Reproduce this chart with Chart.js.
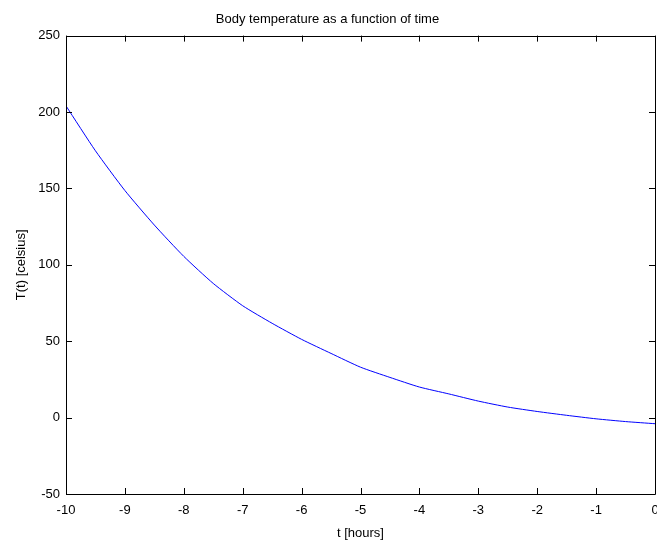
<!DOCTYPE html>
<html>
<head>
<meta charset="utf-8">
<script src="https://cdn.jsdelivr.net/npm/chart.js@4"></script>
<style>
  html, body { margin: 0; padding: 0; background: #fff; }
  #wrap { width: 657px; height: 544px; }
</style>
</head>
<body>
<div id="wrap"><canvas id="tempChart" width="657" height="544"></canvas></div>
<script type="text/javascript">
// time in hours, temperature in celsius
const hours = [-10, -9.5, -9, -8.5, -8, -7.5, -7, -6.5, -6, -5.5, -5,
               -4.5, -4, -3.5, -3, -2.5, -2, -1.5, -1, -0.5, 0];
const temps = [204, 174.6, 148.6, 126, 105.5, 87.8, 73.2, 61.7, 51.2, 42, 33,
               26.3, 20, 15.5, 10.8, 6.9, 4, 1.5, -0.8, -2.6, -4];
const chartTitle = "Body temperature as a function of time";
const xLabel = "t [hours]";
const yLabel = "T(t) [celsius]";

const FONT = "'Liberation Sans', Arial, sans-serif";

// octave style box: frame on all sides, tick marks pointing inward
const boxTicks = {
  id: "boxTicks",
  afterDraw(chart) {
    const ctx = chart.ctx;
    const a = chart.chartArea;
    const xs = chart.scales.x, ys = chart.scales.y;
    const len = 6;
    ctx.save();
    ctx.strokeStyle = "#000";
    ctx.lineWidth = 1;
    ctx.beginPath();
    ctx.rect(Math.round(a.left) + 0.5, Math.round(a.top) + 0.5,
             Math.round(a.right - a.left), Math.round(a.bottom - a.top));
    xs.ticks.forEach(t => {
      const px = Math.round(xs.getPixelForValue(t.value)) + 0.5;
      ctx.moveTo(px, a.bottom); ctx.lineTo(px, a.bottom - len);
      ctx.moveTo(px, a.top); ctx.lineTo(px, a.top + len);
    });
    ys.ticks.forEach(t => {
      const py = Math.round(ys.getPixelForValue(t.value)) + 0.5;
      ctx.moveTo(a.left, py); ctx.lineTo(a.left + len, py);
      ctx.moveTo(a.right, py); ctx.lineTo(a.right - len, py);
    });
    ctx.stroke();
    ctx.restore();
  }
};

new Chart("tempChart", {
  type: "line",
  data: {
    datasets: [{
      data: hours.map((h, i) => ({ x: h, y: temps[i] })),
      borderColor: "#0000ff",
      borderWidth: 1,
      pointRadius: 0,
      fill: false,
      tension: 0.2
    }]
  },
  options: {
    responsive: false,
    animation: false,
    layout: { padding: { left: 0, right: 2, top: 0, bottom: 0 } },
    plugins: {
      legend: { display: false },
      tooltip: { enabled: false },
      title: {
        display: true,
        text: chartTitle,
        color: "#000",
        font: { family: FONT, size: 13, weight: "normal" },
        padding: { top: 12, bottom: 8 }
      }
    },
    scales: {
      x: {
        type: "linear",
        min: -10,
        max: 0,
        grid: { display: false, drawTicks: false },
        border: { display: false },
        ticks: {
          stepSize: 1,
          padding: 9,
          color: "#000",
          font: { family: FONT, size: 13 }
        },
        title: {
          display: true,
          text: xLabel,
          color: "#000",
          font: { family: FONT, size: 13 },
          padding: { top: 0, bottom: 3 }
        },
        afterFit(s) { s.height = 50; s.paddingLeft = 0; s.paddingRight = 0; }
      },
      y: {
        min: -50,
        max: 250,
        grid: { display: false, drawTicks: false },
        border: { display: false },
        ticks: {
          stepSize: 50,
          padding: 6,
          color: "#000",
          font: { family: FONT, size: 13 }
        },
        title: {
          display: true,
          text: yLabel,
          color: "#000",
          font: { family: FONT, size: 13 },
          padding: { top: 14, bottom: 0 }
        },
        afterFit(s) { s.width = 66; s.paddingTop = 0; s.paddingBottom = 0; }
      }
    }
  },
  plugins: [boxTicks]
});
</script>
</body>
</html>
